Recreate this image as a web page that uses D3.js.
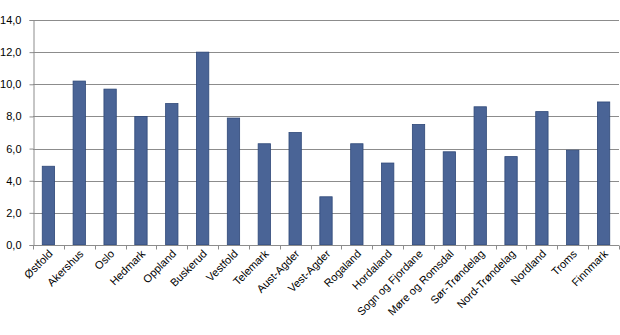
<!DOCTYPE html>
<html>
<head>
<meta charset="utf-8">
<script src="https://cdn.jsdelivr.net/npm/d3@7"></script>
<style>
  body { margin: 0; background: #fff; }
  svg { display: block; font-family: "Liberation Sans", Arial, sans-serif; }
</style>
</head>
<body>
<svg id="chart" width="620" height="335"></svg>
<script>
const counties = ['Østfold', 'Akershus', 'Oslo', 'Hedmark', 'Oppland', 'Buskerud', 'Vestfold',
  'Telemark', 'Aust-Agder', 'Vest-Agder', 'Rogaland', 'Hordaland', 'Sogn og Fjordane',
  'Møre og Romsdal', 'Sør-Trøndelag', 'Nord-Trøndelag', 'Nordland', 'Troms', 'Finnmark'];
const values = [4.9, 10.2, 9.7, 8.0, 8.8, 12.0, 7.9, 6.3, 7.0, 3.0, 6.3, 5.1, 7.5, 5.8, 8.6, 5.5, 8.3, 5.9, 8.9];
const yTicks = [0, 2, 4, 6, 8, 10, 12, 14];

const svg = d3.select('#chart');
const plotLeft = 33, plotRight = 619, plotTop = 20, plotBottom = 245;

const x = d3.scaleBand()
  .domain(counties)
  .range([plotLeft, plotRight])
  .paddingInner(0.6)
  .paddingOuter(0.3);

const y = d3.scaleLinear()
  .domain([0, 14])
  .range([plotBottom, plotTop]);

const fmt = d => d3.format('.1f')(d).replace('.', ',');

// gridlines
svg.append('g')
  .selectAll('line')
  .data(yTicks.filter(d => d > 0))
  .join('line')
  .attr('x1', plotLeft)
  .attr('x2', plotRight)
  .attr('y1', d => Math.round(y(d)) + 0.5)
  .attr('y2', d => Math.round(y(d)) + 0.5)
  .attr('stroke', '#8c8c8c')
  .attr('stroke-width', 1);

// bars
svg.append('g')
  .selectAll('rect')
  .data(values)
  .join('rect')
  .attr('x', (d, i) => x(counties[i]))
  .attr('y', d => y(d))
  .attr('width', x.bandwidth())
  .attr('height', d => plotBottom - y(d))
  .attr('fill', '#4a6496')
  .attr('stroke', '#2e4878')
  .attr('stroke-width', 0.8);

// y axis
const yAxis = svg.append('g')
  .attr('transform', `translate(${plotLeft + 0.5},0)`)
  .call(d3.axisLeft(y).tickValues(yTicks).tickFormat(fmt).tickSize(4).tickPadding(8));
yAxis.select('.domain').attr('stroke', '#8c8c8c');
yAxis.selectAll('.tick line').attr('stroke', '#8c8c8c');
yAxis.selectAll('.tick text')
  .attr('font-size', 11)
  .attr('fill', '#000');

// x axis line + ticks at category boundaries
const xg = svg.append('g').attr('transform', `translate(0,${plotBottom + 0.5})`);
xg.append('line')
  .attr('x1', plotLeft).attr('x2', plotRight)
  .attr('stroke', '#8c8c8c');
const bounds = d3.range(counties.length + 1).map(i => plotLeft + i * (plotRight - plotLeft) / counties.length);
xg.selectAll('.xt')
  .data(bounds)
  .join('line')
  .attr('class', 'xt')
  .attr('x1', d => Math.round(d) + 0.5)
  .attr('x2', d => Math.round(d) + 0.5)
  .attr('y1', 0)
  .attr('y2', 4)
  .attr('stroke', '#8c8c8c');

xg.selectAll('text')
  .data(counties)
  .join('text')
  .attr('transform', d => `translate(${x(d) + x.bandwidth() / 2 + 5},${9}) rotate(-45)`)
  .attr('text-anchor', 'end')
  .attr('font-size', 11)
  .attr('fill', '#000')
  .text(d => d);
</script>
</body>
</html>
